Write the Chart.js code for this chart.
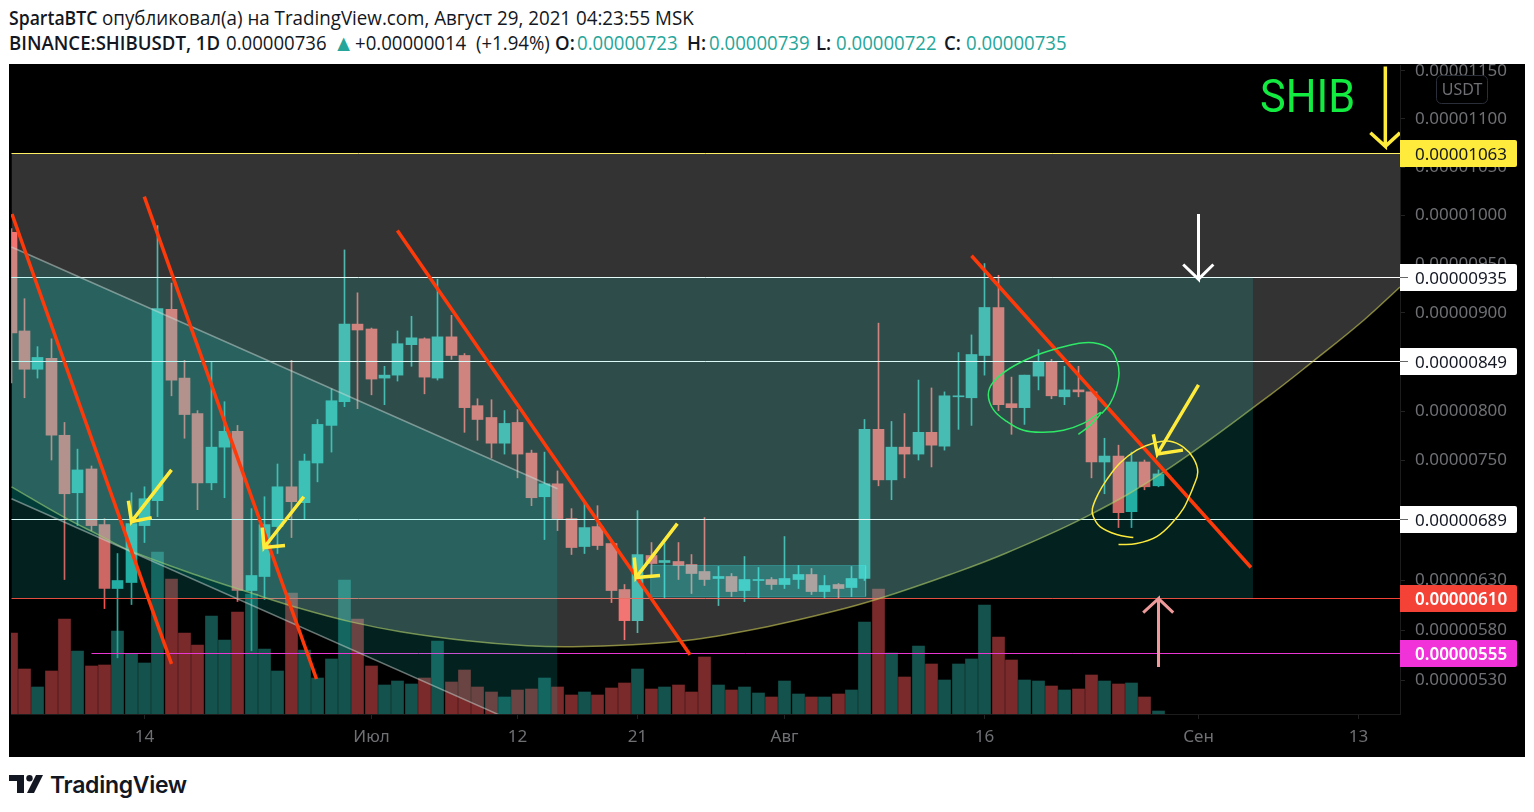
<!DOCTYPE html>
<html lang="ru">
<head>
<meta charset="utf-8">
<title>SHIBUSDT</title>
<script src="https://cdn.jsdelivr.net/npm/chart.js@4/dist/chart.umd.js"></script>
<style>
  html, body { margin: 0; padding: 0; background: #fff; overflow: hidden; }
  #head span { position: absolute; font: 20px/25px "Open Sans", sans-serif; color: #131722; white-space: pre; transform-origin: 0 0; transform: scaleX(.93); }
  #head .l1 { top: 5px; }
  #head .l2 { top: 30px; }
  #head .b { font-weight: 600; }
  #head .t { color: #26a69a; }
  #chart { position: absolute; left: 9px; top: 64px; background: #000; }
  #logo { position: absolute; left: 9px; top: 775px; }
  #brand { position: absolute; left: 50px; top: 769px; font: 600 23px/32px Inter, sans-serif; color: #131722; letter-spacing: -.3px; }
</style>
</head>
<body>
<div id="head">
  <span class="l1 b" style="left:9px;transform:scaleX(.88)">SpartaBTC</span>
  <span class="l1" style="left:102px;transform:scaleX(.938)">опубликовал(а) на TradingView.com, Август 29, 2021 04:23:55 MSK</span>
  <span class="l2 b" style="left:9px">BINANCE:SHIBUSDT, 1D</span>
  <span class="l2" style="left:226px">0.00000736</span>
  <span class="l2 t" style="left:333px;font-size:23px">▲</span>
  <span class="l2" style="left:355px">+0.00000014</span>
  <span class="l2" style="left:476px">(+1.94%)</span>
  <span class="l2 b" style="left:555px">O:</span>
  <span class="l2 t" style="left:577px">0.00000723</span>
  <span class="l2 b" style="left:687px">H:</span>
  <span class="l2 t" style="left:709px">0.00000739</span>
  <span class="l2 b" style="left:816px">L:</span>
  <span class="l2 t" style="left:836px">0.00000722</span>
  <span class="l2 b" style="left:944px">C:</span>
  <span class="l2 t" style="left:966px">0.00000735</span>
</div>
<canvas id="chart" width="1516" height="693"></canvas>
<svg id="logo" width="36" height="19" viewBox="0 0 36 19"><path fill="#131722" d="M0 0h15v18H8V6H0z"/><circle fill="#131722" cx="20.5" cy="3.2" r="3.2"/><path fill="#131722" d="M27 0h7l-9 18h-7z"/></svg>
<div id="brand">TradingView</div>
<script>
// prices are in units of 0.00000001 USDT, candle 0 is 4 Jun 2021
const opens = [981,880,841,852,774,716,740,684,620,626,683,708,902,832,796,726,762,778,618,632,682,722,706,746,784,808,887,882,832,835,
  866,872,832,874,855,804,792,766,787,756,712,725,690,662,682,665,619,588,653,646,647,644,637,630,632,618,628,629,624,629,
  634,617,624,621,630,780,729,762,755,777,763,813,812,855,904,806,802,834,848,813,820,818,747,753,697,747,723];
const highs = [985,913,864,872,787,760,743,690,655,716,722,988,929,850,799,848,808,784,700,712,745,850,755,790,821,963,919,883,844,880,
  895,873,933,896,857,811,810,799,800,759,757,738,700,706,703,667,624,698,666,666,666,654,691,642,635,652,641,631,672,643,
  640,633,625,642,790,888,788,796,830,822,818,858,876,949,937,833,835,861,851,844,844,820,771,764,757,749,739];
const lows = [827,812,832,749,629,683,678,600,551,604,666,692,814,771,699,719,711,607,558,609,655,671,689,727,757,803,801,815,805,829,
  844,816,830,851,777,769,751,755,731,703,669,678,654,655,659,606,569,576,633,610,629,615,623,603,612,607,610,619,620,620,
  614,610,610,612,628,723,709,731,749,742,759,780,784,835,799,775,785,820,811,805,813,731,715,681,681,719,722];
const closes = [878,841,853,774,715,739,683,620,628,685,710,903,830,795,726,762,778,618,633,684,722,707,748,785,809,887,881,831,835,867,
  873,833,874,855,802,790,766,786,755,711,725,690,661,681,663,618,588,654,645,648,643,635,629,632,617,629,629,624,630,634,
  617,623,620,630,780,729,762,755,777,764,814,814,856,904,805,802,835,848,814,820,818,747,753,696,747,722,735];
const volumes = [81,45,27,43,95,63,48,49,83,60,51,162,135,81,69,98,74,102,120,65,43,121,64,36,55,134,95,48,29,33,
  30,36,73,32,44,27,22,17,24,25,36,27,19,22,19,26,31,45,25,27,29,22,57,29,24,27,21,17,33,20,
  17,17,20,24,92,125,61,37,68,50,34,50,55,109,77,54,34,33,28,24,25,39,33,30,31,17,3];

const dayTicks = [10,27,38,47,58,73,89,101];
const dayLabels = ["14","Июл","12","21","Авг","16","Сен","13"];
const priceTicks = [530,580,630,750,800,900,950,1000,1050,1100,1150];

const levels = [1063,935,849,689,610,555];
const levelStarts = [0,0,0,0,0,6];

// hand drawn stuff, [day index, price]
const arcLine = [[0,722],[3.9,692],[6.67,673],[8.9,658],[14.2,632],[18.1,615],[21.7,600],[25.4,587],[29.2,577],[34.2,568],[38.7,563],[42.1,562],[46.6,564],[51.1,569],[56.7,582],[61.6,597],[65.1,610],[70.4,634],[74.7,656],[80.9,694],[86.4,737],[94.4,815],[97.6,849],[101.4,891],[104.12,925]];
const channelTop = [[0,966],[41,720]];
const channelBottom = [[0,710],[41,469]];
const zoneBox = [[0,935],[93.1,935]];
const zoneLow = 610;
const rangeBox = [[47.95,643],[64.07,643],[64.07,612],[47.95,612],[47.95,643]];
const redLines = [[[0.07,1000],[12,545]],[[9.99,1018],[22.9,530]],[[28.96,983],[50.9,554]],[[72,957],[92.95,641]]];
const yellowArrows = [
  [[12,739],[9,687],[8.8,708],[9,687],[10.55,691]],
  [[21.95,712],[18.97,661],[18.84,681],[18.97,661],[20.54,663]],
  [[49.95,685],[46.85,631],[46.72,651],[46.85,631],[48.65,633]],
  [[89,825],[85.93,755],[85.63,775],[85.93,755],[87.85,759]],
  [[103.02,1153],[103.02,1070],[101.9,1084],[103.02,1070],[104.12,1084]]
];
const whiteArrow = [[89,1000],[89,933],[87.87,948],[89,933],[90.13,948]];
const pinkArrow = [[86,542],[86,610],[84.87,596],[86,610],[87.12,596]];
const greenLoop = [[80.01,775],[80.89,784],[81.69,797],[80.38,786],[78.89,779],[77.39,777],[75.89,779],[74.64,788],[73.64,800],[73.26,815],[73.64,828],[74.89,842],[76.64,854],[78.39,862],[79.89,867],[81.13,868],[82.38,862],[82.89,850],[83.06,837],[82.83,820],[82.38,806],[81.76,796]];
const yellowLoop = [[84.13,671],[82.88,674],[81.63,682],[81.13,692],[81.06,700],[81.5,715],[82.13,729],[83.13,746],[84.38,759],[85.63,766],[86.88,768],[87.88,762],[88.63,751],[88.96,737],[88.63,722],[88.25,710],[87.88,700],[87.13,687],[85.88,672],[84.38,665],[83,664]];

const upColor = "#26a69a", downColor = "#ef5350";
const upVol = "#14534d", downVol = "#7a2a2a";
const levelColors = ["#ffeb3b","#ffffff","#ffffff","#ffffff","#f44336","#ea37d4"];
const chipText = ["#131722","#131722","#131722","#131722","#ffffff","#ffffff"];
const chipFill = ["#ffeb3b","#ffffff","#ffffff","#ffffff","#f44336","#f032d8"];
const tealFill = "rgba(14,221,208,0.15)";
const axisFont = '"Noto Sans", sans-serif';
const axisGray = "#6f7074";

const price = v => (v / 1e8).toFixed(8);
const pts = a => a.map(p => ({x: p[0], y: p[1]}));
const isUp = i => closes[i] >= opens[i];

// the price axis of the picture is a little compressed towards the top
class PriceScale extends Chart.LinearScale {
  static id = "price";
  getPixelForValue(v) {
    if (v === null) return NaN;
    const t = x => Math.log(x + 11000);
    const p = this.getPixelForDecimal((t(v) - t(this.min)) / (t(this.max) - t(this.min)));
    return this.options.snap ? Math.round(p - .5) + .5 : p;
  }
  // digits sit a bit high with textBaseline middle
  getPixelForTick(i) {
    return super.getPixelForTick(i) + 1.5;
  }
}
// whole days land on a whole pixel so the wicks stay sharp
class DayScale extends Chart.LinearScale {
  static id = "day";
  getPixelForValue(v) {
    const p = super.getPixelForValue(v);
    return Number.isInteger(v) ? Math.round(p - .5) + .5 : p;
  }
}
Chart.register(PriceScale, DayScale);

const noPadding = s => { s.paddingTop = s.paddingBottom = s.paddingLeft = s.paddingRight = 0; };

const drawing = (data, color, width, extra) => Object.assign({
  type: "line", data: pts(data), borderColor: color, borderWidth: width,
  pointRadius: 0, fill: false, tension: 0, yAxisID: "y"
}, extra);

const candleBars = (key, data, width, colors) => ({
  type: "bar", grouped: false, barPercentage: 1, categoryPercentage: 1, maxBarThickness: width,
  minBarLength: 1, yAxisID: key,
  data: data.map((v, i) => ({x: i, y: v})),
  backgroundColor: c => isUp(c.dataIndex) ? colors[0] : colors[1]
});

// first in the list is drawn first
const datasets = [];
datasets.push(candleBars("yVol", volumes, 12, [upVol, downVol]));
datasets.push(candleBars("y", lows.map((v, i) => [v, highs[i]]), 1, [upColor, downColor]));
datasets.push(candleBars("y", opens.map((v, i) => [v, closes[i]]), 11, [upColor, downColor]));
levels.forEach((v, k) => datasets.push(drawing([[levelStarts[k], v], [104.12, v]], levelColors[k], 1, {yAxisID: "yLevel"})));
datasets.push(drawing(arcLine, "rgba(205,205,85,0.6)", 1.5, {tension: .4, fill: {value: levels[0]}, backgroundColor: "rgba(255,255,255,0.2)"}));
datasets.push(drawing(zoneBox, "rgba(0,0,0,0)", 0, {fill: {value: zoneLow}, backgroundColor: tealFill}));
datasets.push(drawing(channelTop, "rgba(205,220,215,0.5)", 1.5, {fill: "+1", backgroundColor: tealFill}));
datasets.push(drawing(channelBottom, "rgba(205,220,215,0.5)", 1.5));
datasets.push(drawing(rangeBox, "rgba(64,255,255,0.25)", 1, {fill: "shape", backgroundColor: "rgba(64,255,255,0.25)"}));
redLines.forEach(l => datasets.push(drawing(l, "#ff3a0a", 3.5)));
datasets.push(drawing(greenLoop, "#2ee866", 1.5, {tension: .4}));
datasets.push(drawing(yellowLoop, "#fdea3c", 1.5, {tension: .4}));
yellowArrows.forEach(a => datasets.push(drawing(a, "#ffeb3b", 3.5)));
datasets.push(drawing(whiteArrow, "#ffffff", 3));
datasets.push(drawing(pinkArrow, "#ef9a9a", 3));
datasets.forEach((d, k) => { d.order = -k; });

const overlays = {
  id: "overlays",
  afterDraw(chart) {
    const {ctx, scales} = chart;
    const y = scales.yLevel, left = chart.chartArea.right;
    ctx.save();
    ctx.textBaseline = "middle";
    levels.forEach((v, k) => {
      const py = y.getPixelForValue(v);
      ctx.fillStyle = chipFill[k];
      ctx.beginPath();
      ctx.roundRect(left, py - 13.5, 117, 27, [0, 2, 2, 0]);
      ctx.fill();
      ctx.fillStyle = levelColors[k] === "#ffffff" ? "#666" : levelColors[k];
      ctx.fillRect(left, py - .5, 8, 1);
      ctx.fillStyle = chipText[k];
      ctx.font = (k > 3 ? "600 " : "") + "17px " + axisFont;
      ctx.fillText(price(v), left + 15, py + 1.5);
    });
    // scale unit button
    ctx.fillStyle = "rgba(0,0,0,0.8)";
    ctx.strokeStyle = "#2a2e39";
    ctx.beginPath();
    ctx.roundRect(left + 36.5, 11.5, 51, 28, 5);
    ctx.fill();
    ctx.stroke();
    ctx.fillStyle = axisGray;
    ctx.font = "16px " + axisFont;
    ctx.textAlign = "center";
    ctx.fillText("USDT", left + 62, 26);
    // title on the chart
    ctx.fillStyle = "#12ec40";
    ctx.font = "47px Roboto, sans-serif";
    ctx.textAlign = "left";
    ctx.translate(1251, 36);
    ctx.scale(.92, 1);
    ctx.fillText("SHIB", 0, 0);
    ctx.restore();
  }
};

new Chart(document.getElementById("chart"), {
  type: "bar",
  data: {datasets: datasets},
  plugins: [overlays],
  options: {
    responsive: false,
    animation: false,
    devicePixelRatio: 1,
    layout: {padding: {left: 2, top: 1, right: 0, bottom: 0}},
    plugins: {legend: {display: false}, tooltip: {enabled: false}, title: {display: false}},
    scales: {
      x: {
        type: "day", min: 0, max: 104.12, offset: false,
        afterBuildTicks: s => { s.ticks = dayTicks.map(v => ({value: v})); },
        afterFit: s => { s.height = 43; noPadding(s); },
        grid: {offset: false, drawOnChartArea: false, color: "#222", tickLength: 5},
        border: {color: "#1c1c1c"},
        ticks: {autoSkip: false, maxRotation: 0, padding: 8, color: axisGray,
          font: {family: axisFont, size: 17},
          callback: v => dayLabels[dayTicks.indexOf(v)]}
      },
      y: {
        type: "price", position: "right", min: 495.4, max: 1154.6,
        afterBuildTicks: s => { s.ticks = priceTicks.map(v => ({value: v})); },
        afterFit: s => { s.width = 125; noPadding(s); },
        grid: {drawOnChartArea: false, color: "#222", tickLength: 5},
        border: {color: "#1c1c1c"},
        ticks: {autoSkip: false, padding: 10, color: axisGray,
          font: {family: axisFont, size: 17},
          callback: v => price(v)}
      },
      yLevel: {type: "price", display: false, snap: true, min: 495.4, max: 1154.6},
      yVol: {type: "linear", display: false, min: 0, max: 649}
    }
  }
});
</script>
</body>
</html>
